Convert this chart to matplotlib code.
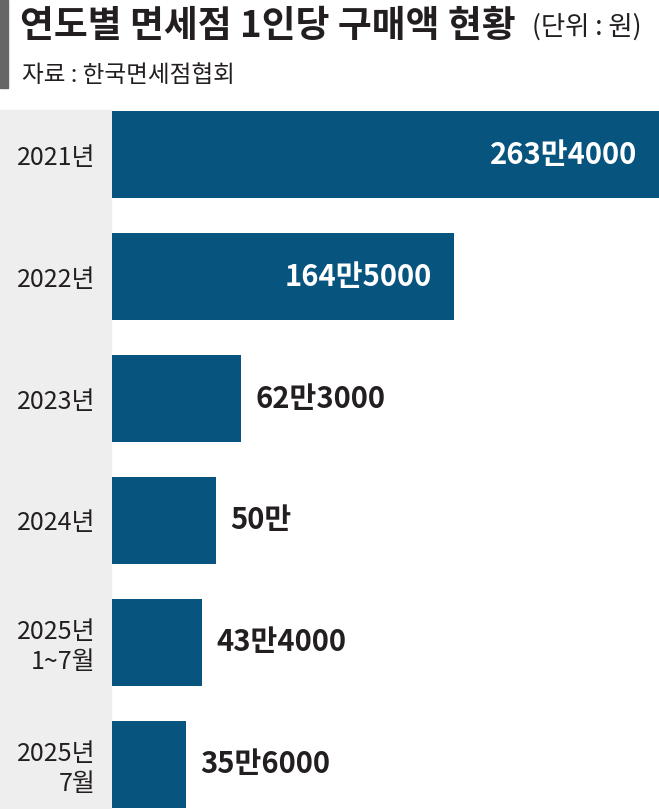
import matplotlib
matplotlib.use('Agg')
import matplotlib.pyplot as plt
from matplotlib.patches import Rectangle

plt.rcParams['font.family'] = ['Noto Sans CJK KR', 'DejaVu Sans']

# data
periods = ['2021년', '2022년', '2023년', '2024년', '2025년\n1~7월', '2025년\n7월']
amounts = [2634000, 1645000, 623000, 500000, 434000, 356000]
amount_labels = ['263만4000', '164만5000', '62만3000', '50만', '43만4000', '35만6000']
inside = [True, True, False, False, False, False]

title = '연도별 면세점 1인당 구매액 현황'
unit = '(단위 : 원)'
source = '자료 : 한국면세점협회'

bar_color = '#07547e'
W, H = 659, 809
fig = plt.figure(figsize=(W / 100, H / 100), dpi=100)

# gray label panel and header marker
fig.add_artist(Rectangle((0, 0), 111 / W, 1 - 110 / H, transform=fig.transFigure,
                         color='#eeeeee', zorder=0))
fig.add_artist(Rectangle((0, 1 - 88 / H), 8 / W, 88 / H, transform=fig.transFigure,
                         color='#666666', zorder=0))

fig.text(20 / W, 1 - 27 / H, title, fontsize=26.5, fontweight='heavy', color='#231f20',
         va='center', ha='left')
fig.text(642 / W, 1 - 27 / H, unit, fontsize=19, color='#231f20', va='center', ha='right')
fig.text(22 / W, 1 - 76 / H, source, fontsize=17, color='#231f20', va='center', ha='left')

ax = fig.add_axes([112 / W, 0, 1 - 112 / W, 1 - 110 / H])
ax.patch.set_alpha(0)
ypos = list(range(len(amounts)))
ax.barh(ypos, amounts, height=0.71, color=bar_color)
ax.set_xlim(0, max(amounts))
ax.set_ylim(5 + 0.365, -0.365)

ax.set_yticks(ypos)
ax.set_yticklabels(periods, fontsize=18, color='#231f20', linespacing=1.2)
ax.tick_params(axis='y', length=0, pad=12)
ax.set_xticks([])
for s in ax.spines.values():
    s.set_visible(False)

for y, v, lab, ins in zip(ypos, amounts, amount_labels, inside):
    if ins:
        ax.annotate(lab, (v, y), xytext=(-22, 0), textcoords='offset pixels',
                    ha='right', va='center', fontsize=21, fontweight='bold', color='white')
    else:
        ax.annotate(lab, (v, y), xytext=(14, 0), textcoords='offset pixels',
                    ha='left', va='center', fontsize=21, fontweight='bold', color='#231f20')

fig.savefig('out.png', dpi=100)
